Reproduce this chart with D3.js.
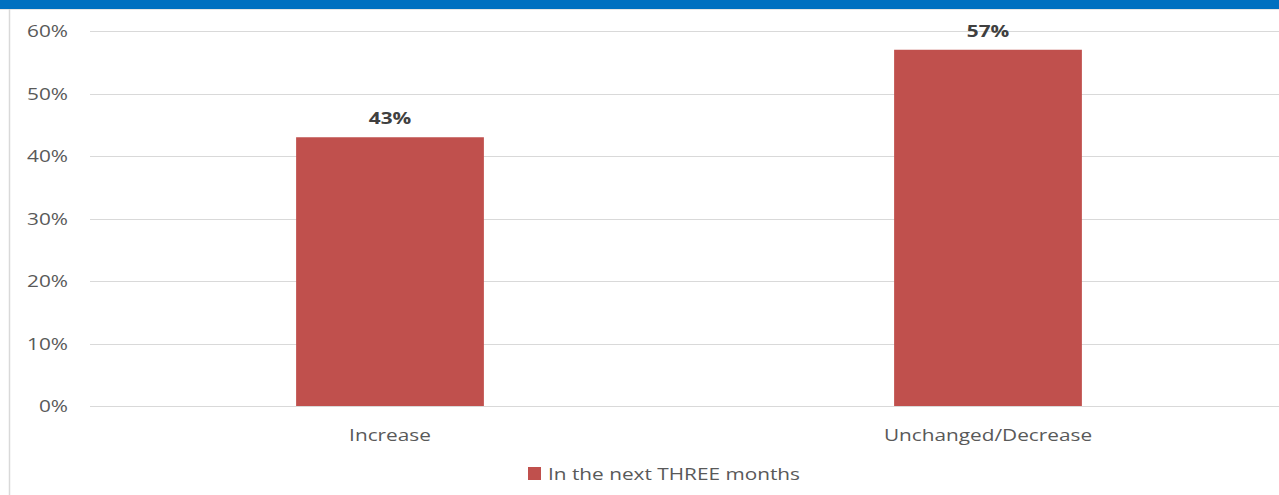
<!DOCTYPE html>
<html>
<head>
<meta charset="utf-8">
<script src="https://cdn.jsdelivr.net/npm/d3@7"></script>
<style>
  html, body { margin: 0; padding: 0; background: #fff; }
  svg { display: block; }
  text { font-family: "Open Sans", sans-serif; }
</style>
</head>
<body>
<svg id="chart" width="1279" height="495"></svg>
<script>
// Survey results: expected change in the next three months
const categories = ["Increase", "Unchanged/Decrease"];
const values = [0.43, 0.57];
const seriesName = "In the next THREE months";
const tickValues = [0, 0.1, 0.2, 0.3, 0.4, 0.5, 0.6];

const W = 1279, H = 495;
const svg = d3.select("#chart");
const barColor = "#C0504D";
const gridColor = "#d9d9d9";
const textColor = "#595959";
const sx = 1.3; // horizontal text stretch

// header band and frame
svg.append("rect").attr("x", 0).attr("y", 0).attr("width", W).attr("height", 9).attr("fill", "#0070C0");
svg.append("line").attr("x1", 0).attr("x2", W).attr("y1", 9.5).attr("y2", 9.5).attr("stroke", "#e6e6e6");
svg.append("line").attr("x1", 9.5).attr("x2", 9.5).attr("y1", 9).attr("y2", H).attr("stroke", gridColor).attr("stroke-width", 1.5);

const x = d3.scaleBand().domain(categories).range([91, 1287]).paddingInner(0.686).paddingOuter(0.343);
const y = d3.scaleLinear().domain([0, 0.6]).range([406, 31]);

// gridlines
svg.append("g").selectAll("line").data(tickValues).join("line")
  .attr("x1", 90).attr("x2", W)
  .attr("y1", d => Math.round(y(d)) + 0.5).attr("y2", d => Math.round(y(d)) + 0.5)
  .attr("stroke", gridColor).attr("stroke-width", 1.2);

// y tick labels
const fmt = d3.format(".0%");
svg.append("g").selectAll("text").data(tickValues).join("text")
  .attr("transform", d => `translate(68,${y(d) + 6}) scale(${sx},1)`)
  .attr("text-anchor", "end")
  .attr("font-size", 16).attr("fill", textColor)
  .text(d => fmt(d));

// bars
svg.append("g").selectAll("rect").data(values).join("rect")
  .attr("x", (d, i) => x(categories[i]))
  .attr("width", x.bandwidth())
  .attr("y", d => y(d))
  .attr("height", d => y(0) - y(d))
  .attr("fill", barColor);

// value labels
svg.append("g").selectAll("text").data(values).join("text")
  .attr("transform", (d, i) => `translate(${x(categories[i]) + x.bandwidth() / 2},${y(d) - 13}) scale(${sx},1)`)
  .attr("text-anchor", "middle")
  .attr("font-size", 16).attr("font-weight", "bold").attr("fill", "#404040")
  .text(d => fmt(d));

// category labels
svg.append("g").selectAll("text").data(categories).join("text")
  .attr("transform", d => `translate(${x(d) + x.bandwidth() / 2},441) scale(${sx},1)`)
  .attr("text-anchor", "middle")
  .attr("font-size", 16).attr("fill", textColor)
  .text(d => d);

// legend
const lg = svg.append("g");
lg.append("rect").attr("x", 528).attr("y", 467).attr("width", 13).attr("height", 13).attr("fill", barColor);
lg.append("text")
  .attr("transform", `translate(548,480) scale(${sx},1)`)
  .attr("font-size", 16).attr("fill", textColor)
  .text(seriesName);
</script>
</body>
</html>
